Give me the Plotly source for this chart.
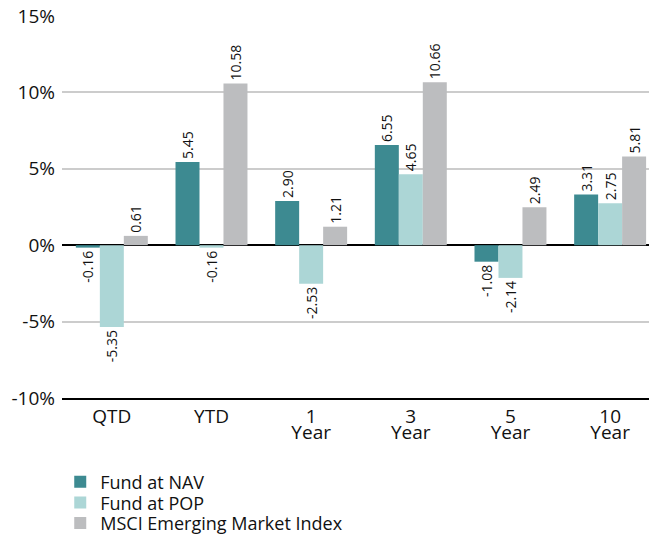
import plotly.graph_objects as go

categories = ["QTD", "YTD", "1 Year", "3 Year", "5 Year", "10 Year"]
cat_line1 = ["QTD", "YTD", "1", "3", "5", "10"]
cat_line2 = ["", "", "Year", "Year", "Year", "Year"]
fund_nav = [-0.16, 5.45, 2.90, 6.55, -1.08, 3.31]
fund_pop = [-5.35, -0.16, -2.53, 4.65, -2.14, 2.75]
msci = [0.61, 10.58, 1.21, 10.66, 2.49, 5.81]
series_names = ["Fund at NAV", "Fund at POP", "MSCI Emerging Market Index"]
y_tickvals = [-10, -5, 0, 5, 10, 15]
y_ticktext = ["-10%", "-5%", "0%", "5%", "10%", "15%"]

colors = ["#3d8a91", "#acd6d6", "#bcbdbf"]
FONT = "Open Sans, Noto Sans, sans-serif"
legend_ids = ["legend", "legend2", "legend3"]
legend_ys = [0.099, 0.060, 0.022]
xpos = list(range(len(categories)))

fig = go.Figure()
for name, vals, col, lg in zip(series_names, [fund_nav, fund_pop, msci], colors, legend_ids):
    fig.add_trace(go.Bar(
        x=xpos, y=vals, name=name, legend=lg,
        marker=dict(color=col, line=dict(width=0)),
        texttemplate="%{y:.2f}", textposition="outside", textangle=-90,
        textfont=dict(family=FONT, size=14, color="#111"),
        constraintext="none", cliponaxis=False,
    ))
# carrier trace for second tick-label row
fig.add_trace(go.Scatter(x=[xpos[0]], y=[0], xaxis="x2", mode="markers",
                         marker=dict(opacity=0), showlegend=False, hoverinfo="skip"))

legend_common = dict(x=-0.003, xref="paper", yref="container",
                     xanchor="left", yanchor="middle",
                     font=dict(family=FONT, size=18, color="#111"),
                     itemclick=False, bgcolor="rgba(0,0,0,0)")

xrange = [-0.5, 5.39]
fig.update_layout(
    width=649, height=535,
    margin=dict(l=62, r=0, t=16, b=137),
    paper_bgcolor="white", plot_bgcolor="white",
    barmode="group", bargap=0.278, bargroupgap=0,
    font=dict(family=FONT, size=18, color="#111"),
    showlegend=True,
    legend=dict(y=legend_ys[0], **legend_common),
    legend2=dict(y=legend_ys[1], **legend_common),
    legend3=dict(y=legend_ys[2], **legend_common),
    xaxis=dict(
        tickmode="array", tickvals=xpos, ticktext=cat_line1,
        range=xrange, showgrid=False, zeroline=False,
        showline=True, linecolor="black", linewidth=2, ticks="",
        tickfont=dict(family=FONT, size=19, color="#111"),
    ),
    xaxis2=dict(
        overlaying="x", side="bottom", anchor="y",
        tickmode="array", tickvals=xpos, ticktext=cat_line2,
        range=xrange, showgrid=False, zeroline=False, showline=False, ticks="",
        ticklabelstandoff=21,
        tickfont=dict(family=FONT, size=19, color="#111"),
    ),
    yaxis=dict(
        range=[-10, 15], tickmode="array", tickvals=y_tickvals, ticktext=y_ticktext,
        showgrid=True, gridcolor="#cccccc", gridwidth=1.5,
        zeroline=True, zerolinecolor="black", zerolinewidth=1.5,
        showline=False, ticks="", ticklabelstandoff=6,
        tickfont=dict(family=FONT, size=19, color="#111"),
    ),
)

fig.write_html("out.html")
